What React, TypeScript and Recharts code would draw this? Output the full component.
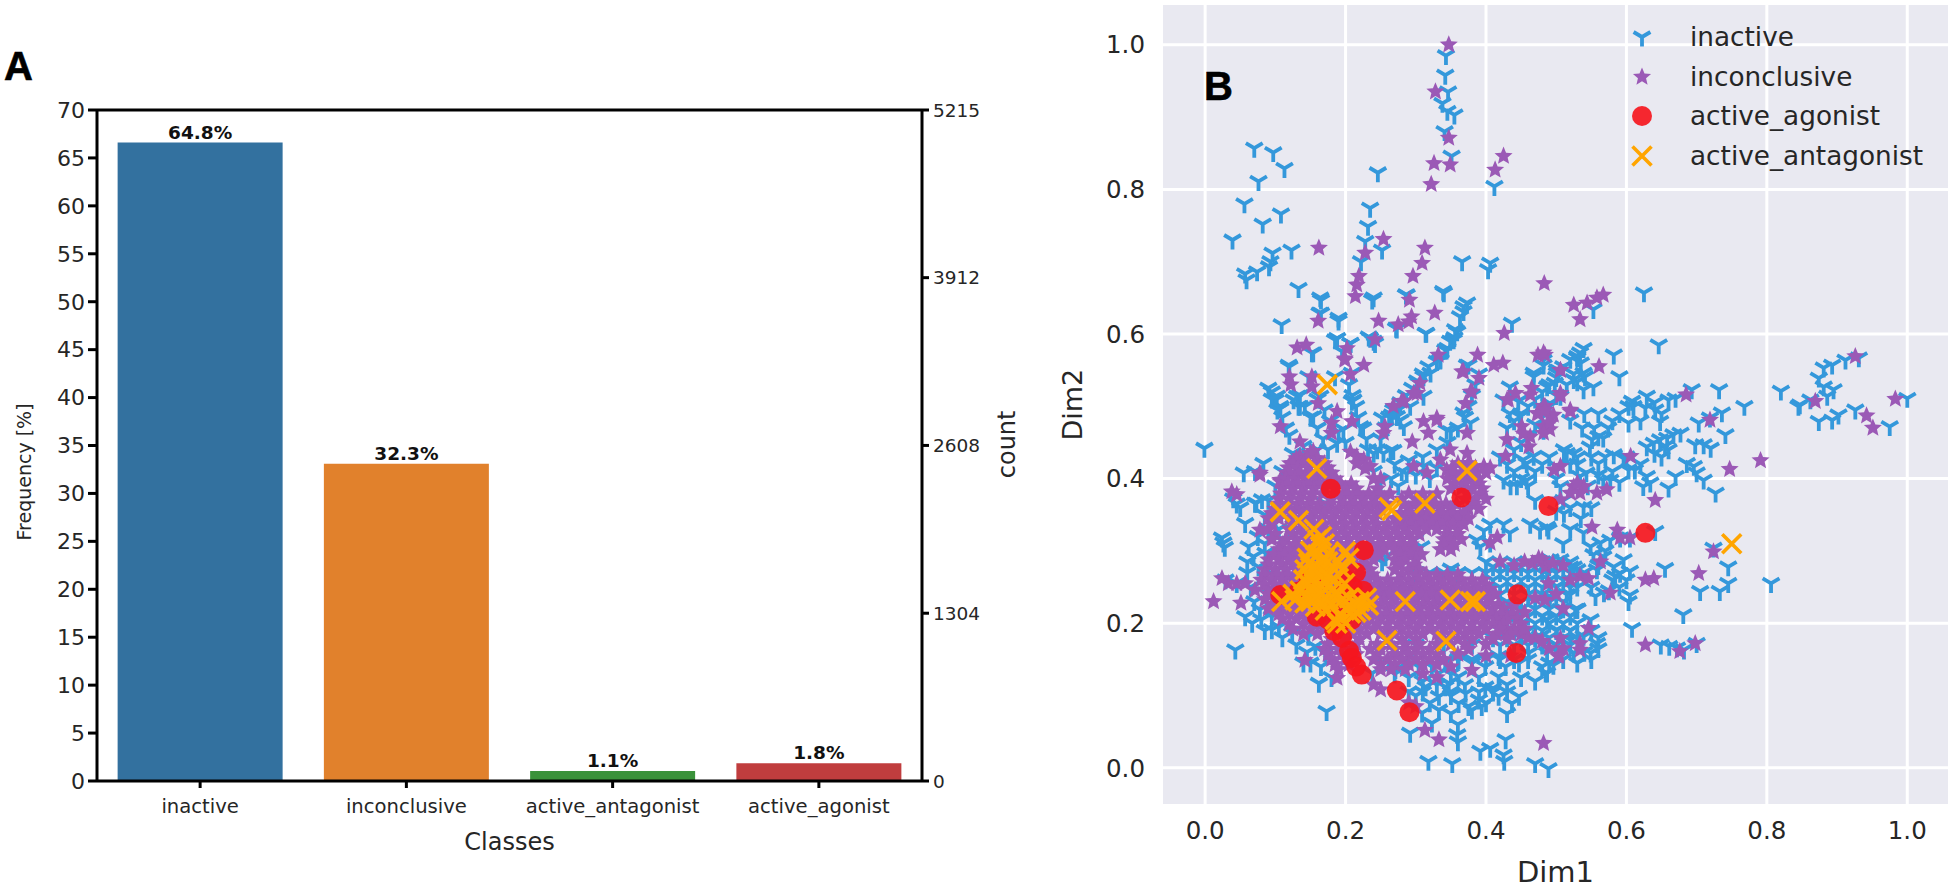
import React from 'react';
import { ComposedChart, Bar, Line, XAxis, YAxis, Cell, LabelList, ReferenceLine, ScatterChart, Scatter, CartesianGrid } from 'recharts';

const FONT = '"DejaVu Sans", sans-serif';

// Panel A
const classNames = ['inactive', 'inconclusive', 'active_antagonist', 'active_agonist'];
const frequencies = [66.6, 33.1, 1.05, 1.85];
const counts = [4960, 2466, 78, 138];
const percentLabels = ['64.8%', '32.3%', '1.1%', '1.8%'];
const barColors = ['#33719f', '#e1812c', '#3a923a', '#c03d3e'];
const freqTicks = [0, 5, 10, 15, 20, 25, 30, 35, 40, 45, 50, 55, 60, 65, 70];
const countTicks = [0, 1304, 2608, 3912, 5215];

// Panel B
const inactivePts: number[][] = [
  [.343,.985],[.342,.958],[.346,.935],[.338,.919],[.345,.908],[.355,.903],[.341,.880],[.351,.846],
  [.070,.857],[.097,.851],[.113,.829],[.076,.811],[.056,.780],[.108,.766],[.082,.752],[.039,.730],[.096,.712],[.123,.716],[.093,.700],[.057,.683],[.074,.686],[.059,.675],[.091,.693],[.133,.663],[.165,.647],[.165,.629],[.190,.618],[.109,.613],[.185,.592],[.235,.774],[.232,.749],[.228,.728],[.252,.716],[.222,.700],[.238,.647],[.246,.823],[.286,.654],[.340,.657],[.366,.700],[.406,.698],[.403,.689],[.412,.804],[.437,.615],[.373,.643],[.368,.631],[.363,.624],[.314,.601],[.272,.608],[.233,.596],[.240,.590],[.356,.606],[.349,.590],[.342,.578],[.330,.562],[.152,.574],[.120,.555],[.207,.587],[.195,.576],[.311,.541],[.304,.532],[.375,.557],[.209,.546],[.147,.541],[.185,.541],[.095,.520],[.102,.514],[.107,.500],[.131,.514],[.133,.500],[.209,.507],[.164,.514],[.275,.495],[.266,.488],[.252,.484],[.292,.500],[.434,.490],[.482,.557],[.468,.541],[.503,.550],[.498,.532],[.446,.507],
  [-.001,.442],[.055,.408],[.071,.410],[.040,.372],[.045,.365],[.050,.360],[.057,.338],[.024,.318],[.026,.311],[.028,.305],[.062,.306],[.069,.292],[.029,.260],[.045,.255],[.057,.209],[.067,.200],[.043,.163],[.095,.191],[.140,.145],[.162,.117],[.173,.078],[.292,.048],[.318,.009],[.352,.006],[.359,.046],[.360,.036],[.392,.023],[.406,.027],[.428,.039],[.425,.018],[.426,.009],[.470,.006],[.489,-.001],
  [.333,.131],[.347,.117],[.361,.126],[.371,.103],[.390,.094],[.375,.085],[.399,.112],[.418,.126],[.437,.089],[.447,.099],[.418,.099],[.333,.099],[.309,.076],[.333,.080],[.323,.062],[.361,.089],[.394,.085],[.342,.112],[.314,.112],[.480,.140],[.485,.131],[.428,.140],[.447,.145],[.461,.159],[.418,.154],[.399,.140],[.380,.145],[.361,.149],[.342,.145],[.323,.140],[.304,.140],[.285,.149],[.271,.136],[.252,.145],[.238,.131],
  [.646,.585],[.539,.580],[.534,.574],[.530,.567],[.582,.571],[.590,.541],[.553,.527],[.541,.541],[.530,.534],[.553,.634],[.625,.657],[.608,.507],[.603,.500],[.629,.514],[.641,.495],[.627,.498],[.660,.509],[.670,.511],[.648,.479],[.603,.477],[.693,.523],[.732,.523],[.768,.500],[.820,.521],[.719,.484],[.736,.491],[.703,.477],[.741,.461],[.698,.447],[.720,.442],[.710,.447],[.686,.421],[.696,.417],[.700,.408],[.710,.398],[.727,.380],[.670,.403],[.660,.387],[.629,.444],[.639,.449],[.648,.454],[.658,.456],[.667,.461],[.677,.463],[.537,.470],[.554,.470],[.574,.470],[.551,.454],[.567,.456],[.560,.458],[.548,.444],[.582,.433],[.596,.428],[.612,.412],[.629,.403],[.624,.389],[.634,.394],[.603,.412],[.515,.435],[.567,.398],[.577,.398],[.560,.421],[.543,.408],[.534,.403],[.525,.435],[.487,.527],[.501,.550],[.525,.537],[.491,.504],[.506,.514],[.482,.467],
  [.881,.553],[.893,.557],[.912,.564],[.931,.567],[.874,.539],[.881,.527],[.895,.523],[.886,.514],[.847,.502],[.845,.500],[.862,.509],[.874,.479],[.893,.481],[.902,.488],[.926,.495],[.975,.472],[1.0,.511],
  [.549,.306],[.563,.311],[.577,.315],[.591,.318],[.605,.318],[.641,.327],[.553,.295],[.567,.292],[.596,.288],[.582,.278],[.591,.269],[.605,.272],[.584,.265],[.655,.276],[.520,.278],[.530,.274],[.558,.274],[.568,.242],[.556,.237],[.605,.239],[.603,.230],[.527,.219],[.549,.205],[.681,.212],[.608,.193],[.649,.170],[.661,.168],[.672,.166],[.682,.163],[.700,.172],[.705,.244],[.733,.244],[.745,.255],[.745,.278],[.724,.304],[.806,.255],[.489,.329],[.511,.352],[.539,.361],[.506,.389],
  [.492,.288],[.506,.288],[.525,.278],[.487,.269],[.501,.251],[.491,.237],[.506,.219],[.530,.219],[.487,.205],[.501,.191],[.520,.177],[.539,.182],[.558,.172],[.549,.159],[.525,.159],[.506,.159],[.487,.159],[.487,.131],[.496,.142],[.477,.182],
  [.164,.650],[.163,.629],[.190,.622],[.240,.650],[.287,.654],[.339,.659],[.368,.638],[.359,.603],[.315,.601],[.273,.607],[.235,.594],[.242,.587],[.188,.594],[.207,.587],[.154,.574],[.119,.557],[.100,.509],[.107,.497],[.126,.509],[.135,.500],[.154,.486],[.211,.509],[.221,.472],[.197,.468],[.188,.449],[.264,.439],[.240,.435],[.278,.481],[.283,.472],[.344,.467],[.268,.495],[.273,.486],[.321,.546],[.354,.592],[.344,.578],[.335,.564],[.311,.514],[.378,.477],[.368,.491],[.373,.557],[.425,.509],[.434,.527],[.468,.546],[.482,.564],[.501,.546],[.448,.486],[.520,.481],[.530,.569],[.539,.546],[.539,.523],[.453,.426],[.468,.431],[.425,.398],[.444,.390],[.458,.398],[.458,.421],[.511,.440],[.501,.417],[.287,.407],[.311,.417],[.268,.439],[.254,.435],[.083,.421],[.073,.366],[.406,.337],[.425,.337],[.397,.328],[.406,.311],[.434,.325],[.387,.315],[.392,.306],[.463,.337],[.477,.329],[.487,.333],[.539,.325],
  [.076,.278],[.086,.242],[.078,.219],[.095,.209],[.105,.195],[.124,.186],[.147,.182],[.157,.168],[.171,.159],[.095,.269],[.105,.297],[.109,.315],[.086,.297],[.071,.366],[.081,.371],[.171,.366],[.105,.330],[.252,.285],[.257,.292],[.299,.316],[.308,.306],[.350,.275],
  [.40,.285],[.42,.285],[.44,.285],[.46,.285],[.48,.285],[.50,.285],[.52,.285],
  [.30,.27],[.32,.27],[.34,.27],[.36,.27],[.38,.27],[.40,.27],[.42,.27],[.44,.27],[.46,.27],[.48,.27],[.50,.27],[.52,.27],
  [.42,.25],[.44,.25],[.46,.25],[.48,.25],[.50,.25],[.52,.25],
  [.43,.23],[.45,.23],[.47,.23],[.49,.23],[.51,.23],
  [.44,.21],[.46,.21],[.48,.21],[.50,.21],[.52,.21],
  [.42,.19],[.44,.19],[.46,.19],[.48,.19],[.50,.19],[.52,.19],
  [.30,.17],[.34,.17],[.38,.17],[.42,.17],[.44,.17],[.46,.17],[.48,.17],[.50,.17],[.52,.17],
  // streams
  [.09,.525],[.095,.51],[.103,.495],[.11,.485],[.115,.47],[.12,.46],[.135,.515],[.142,.50],[.15,.485],[.16,.47],[.168,.455],[.175,.44],[.16,.51],[.17,.495],[.178,.48],[.19,.465],[.2,.45],[.205,.53],[.21,.515],[.215,.50],[.218,.485],[.225,.47],[.23,.455],[.232,.44],
  [.245,.44],[.25,.455],[.257,.47],[.262,.485],[.27,.495],[.278,.505],[.286,.515],[.295,.525],[.302,.535],[.31,.545],[.318,.555],[.335,.565],[.345,.58],[.355,.595],
  [.33,.44],[.345,.45],[.35,.465],[.36,.47],[.37,.485],[.375,.50],[.38,.515],[.385,.53],[.39,.545],
  [.43,.47],[.44,.48],[.45,.49],[.46,.50],[.47,.51],[.48,.52],[.49,.53],[.50,.54],[.51,.555],[.52,.565],[.44,.44],[.45,.45],[.46,.46],[.47,.475],[.48,.485],[.49,.50],[.50,.515],[.515,.53],[.525,.545],[.535,.56],
  [.27,.42],[.29,.425],[.31,.43],[.28,.41],[.30,.405],[.32,.40],[.33,.415],[.24,.41],[.25,.395],[.265,.40],[.275,.39],
  [.42,.43],[.43,.42],[.44,.41],[.45,.40],[.46,.39],[.435,.39],[.47,.41],[.48,.42],[.49,.43],[.50,.40],[.52,.42],[.53,.43],[.51,.37],[.52,.36],[.50,.355],[.47,.37],
  [.27,.13],[.29,.125],[.31,.12],[.33,.115],[.35,.13],[.37,.115],[.39,.125],[.41,.11],[.43,.115],[.45,.125],[.47,.12],[.32,.09],[.35,.10],[.38,.08],[.40,.09],[.35,.075],[.30,.10],[.43,.075],[.36,.06],
  [.06,.27],[.065,.25],[.07,.23],[.08,.205],[.085,.19],[.11,.18],[.13,.17],[.145,.16],[.06,.285],[.085,.31],[.09,.33],[.10,.345],[.075,.32],[.085,.35],[.09,.37],[.10,.39],[.11,.41],[.125,.435],[.14,.445],[.16,.44],[.15,.145],[.165,.14],[.18,.125],
  [.56,.28],[.57,.30],[.58,.26],[.60,.26],[.575,.245],[.59,.25],[.55,.25],[.53,.25],[.54,.27],[.52,.26],[.515,.24],[.53,.20],[.55,.19],[.56,.18],[.52,.19],[.50,.17],[.54,.16],[.56,.165],[.49,.145],[.51,.15],[.53,.145],[.55,.15],
  [.545,.39],[.55,.36],[.52,.33],[.51,.31],[.535,.345],[.60,.43],[.62,.42],[.58,.41],[.59,.395],[.57,.43],[.55,.43],[.53,.42],[.56,.405],[.65,.43],[.66,.44],[.64,.435],[.655,.445],[.61,.50],[.62,.48],[.64,.505],[.65,.49],[.59,.49],[.58,.48],[.56,.49],[.54,.49],
  // dense lower-right band
  [.41,.278],[.43,.278],[.45,.278],[.47,.278],[.49,.278],[.51,.278],
  [.41,.26],[.43,.26],[.45,.26],[.47,.26],[.49,.26],[.51,.26],[.53,.26],
  [.42,.24],[.44,.24],[.46,.24],[.48,.24],[.50,.24],[.52,.24],
  [.43,.22],[.45,.22],[.47,.22],[.49,.22],[.51,.22],[.53,.22],
  [.43,.20],[.45,.20],[.47,.20],[.49,.20],[.51,.20],
  [.41,.18],[.43,.18],[.45,.18],[.47,.18],[.49,.18],[.51,.18],[.53,.18],
  [.36,.15],[.38,.15],[.40,.15],[.42,.15],[.44,.15],[.46,.15],
  [.29,.105],[.31,.105],[.35,.105],[.39,.105],[.41,.105],[.43,.105],
];

const inconclusiveScattered: number[][] = [
  [.347,1.0],[.328,.935],[.347,.871],[.326,.836],[.349,.834],[.322,.807],[.425,.846],[.413,.827],
  [.162,.719],[.254,.731],[.228,.712],[.219,.680],[.216,.668],[.214,.652],[.313,.719],[.309,.698],[.296,.680],[.291,.647],[.327,.629],[.294,.624],[.290,.617],[.275,.613],[.247,.618],[.161,.618],[.483,.670],[.426,.601],[.242,.592],[.131,.581],[.144,.585],[.202,.580],[.199,.566],[.226,.557],[.207,.544],[.120,.541],[.122,.530],[.152,.527],[.332,.571],[.306,.532],[.302,.518],[.388,.571],[.366,.548],[.390,.539],[.411,.557],[.424,.560],[.380,.520],[.371,.504],[.283,.507],[.161,.504],[.188,.493],[.330,.484],[.474,.571],[.484,.571],[.465,.525],[.442,.518],[.430,.509],[.484,.500],[.475,.490],
  [.199,.564],[.152,.541],[.180,.477],[.180,.463],[.107,.472],[.209,.479],[.135,.451],[.154,.438],[.297,.518],[.256,.472],[.254,.463],[.268,.500],[.280,.507],[.311,.479],[.318,.463],[.330,.481],[.295,.451],[.368,.548],[.378,.520],[.373,.463],[.432,.509],[.463,.516],[.482,.500],[.473,.490],[.451,.472],[.463,.458],[.491,.468],[.520,.495],[.506,.550],[.430,.454],[.428,.431],[.461,.444],[.506,.518],[.491,.486],[.453,.462],[.482,.472],
  [.207,.437],[.216,.431],[.226,.426],[.235,.417],[.216,.421],[.228,.414],[.349,.440],[.335,.426],[.373,.435],[.397,.417],[.344,.412],[.368,.407],[.378,.402],[.359,.398],[.387,.398],[.406,.415],[.297,.417],[.316,.408],[.078,.408],[.107,.398],[.121,.421],[.135,.431],[.150,.435],[.116,.408],[.416,.319],[.406,.311],
  [.926,.569],[.869,.507],[.983,.510],[.942,.487],[.951,.470],[.506,.417],[.497,.412],[.525,.389],[.534,.380],[.520,.380],[.539,.389],[.530,.394],[.572,.385],[.558,.380],[.506,.371],[.606,.431],[.641,.370],[.747,.413],[.791,.425],[.719,.481],[.685,.516],[.551,.333],[.587,.329],[.591,.318],[.605,.318],[.563,.285],[.534,.265],[.546,.262],[.577,.242],[.484,.232],[.489,.255],[.627,.260],[.639,.262],[.703,.269],[.724,.299],[.546,.193],[.627,.170],[.676,.161],[.698,.172],[.534,.172],[.504,.156],[.534,.163],[.506,.179],[.482,.574],[.561,.555],[.506,.550],[.506,.514],[.520,.493],[.496,.488],[.484,.495],[.491,.477],[.482,.463],[.525,.640],[.544,.643],[.534,.620],[.567,.654],[.558,.650],
  [.188,.124],[.313,.052],[.333,.039],[.012,.230],[.051,.228],[.142,.149],[.482,.034],[.045,.378],[.038,.382],[.033,.255],[.045,.255],[.024,.262],[.057,.255],[.078,.329],[.078,.405],[.107,.396],[.071,.246],[.42,.195],[.44,.19],[.47,.18],[.503,.154],[.485,.278],[.466,.283],[.48,.288],[.495,.283],[.24,.115],[.25,.108],[.29,.09],[.30,.085],
  [.42,.285],[.44,.28],[.455,.285],[.475,.29],[.51,.28],[.43,.19],[.45,.185],[.46,.18],[.48,.175],[.49,.165],[.51,.165],[.42,.21],[.44,.225],[.455,.215],[.52,.26],[.51,.22],[.50,.24],[.435,.155],[.40,.155],[.38,.135],[.33,.125],[.31,.13],[.35,.14],[.47,.235],
];

const inconclusiveRows: [number, number[]][] = [
  [.428, [.13,.145,.16]],
  [.421, [.125,.14,.155,.17,.36,.375]],
  [.415, [.118,.132,.147,.162,.175,.352,.368,.385]],
  [.408, [.12,.135,.15,.165,.18,.355,.37,.385,.40]],
  [.400, [.115,.128,.142,.157,.172,.186,.24,.25,.345,.36,.375,.39]],
  [.393, [.118,.133,.148,.163,.178,.193,.208,.355,.37,.39]],
  [.386, [.11,.125,.14,.155,.17,.185,.2,.215,.245,.35,.365,.38,.395]],
  [.379, [.108,.123,.138,.153,.168,.188,.203,.218,.233,.248,.263,.29,.31,.33,.375,.392]],
  [.372, [.105,.12,.135,.15,.18,.195,.21,.225,.24,.255,.28,.30,.32,.37,.385,.4]],
  [.365, [.103,.118,.133,.148,.163,.178,.198,.213,.228,.243,.258,.283,.298,.313,.328,.343,.358,.382]],
  [.358, [.10,.115,.13,.145,.16,.175,.19,.205,.22,.235,.25,.29,.305,.32,.335,.35,.375,.39]],
  [.352, [.095,.11,.125,.14,.155,.17,.185,.2,.215,.23,.245,.278,.293,.308,.323,.338,.353,.368]],
  [.345, [.09,.105,.12,.135,.15,.165,.18,.195,.21,.225,.24,.27,.285,.30,.315,.33,.345,.36,.375]],
  [.337, [.095,.125,.14,.155,.17,.185,.2,.215,.23,.245,.26,.278,.293,.308,.323,.338,.353,.368]],
  [.330, [.09,.12,.135,.15,.165,.18,.195,.21,.225,.24,.255,.27,.285,.30,.315,.33,.345,.36]],
  [.323, [.10,.125,.14,.155,.17,.185,.2,.215,.23,.245,.26,.275,.29,.305,.345,.36]],
  [.316, [.095,.115,.13,.145,.16,.175,.19,.205,.22,.235,.25,.265,.28,.295,.34,.35,.365]],
  [.309, [.11,.128,.143,.158,.173,.188,.203,.218,.233,.248,.263,.278,.293,.34,.355]],
  [.302, [.105,.12,.135,.15,.165,.18,.195,.21,.225,.24,.255,.27,.285,.30,.335,.35]],
  [.295, [.098,.113,.128,.143,.158,.173,.188,.203,.218,.233,.248,.278,.293,.308]],
  [.288, [.09,.105,.12,.135,.15,.165,.18,.195,.21,.225,.24,.27,.285,.30]],
  [.281, [.09,.11,.125,.14,.155,.17,.185,.2,.215,.23,.278,.298]],
  [.274, [.085,.10,.115,.13,.145,.16,.175,.19,.205,.22,.235,.27,.29,.305]],
  [.267, [.085,.103,.118,.133,.148,.163,.178,.193,.208,.223,.238,.28,.30,.315,.33,.345,.36]],
  [.260, [.08,.095,.11,.125,.14,.155,.17,.185,.2,.215,.23,.245,.26,.275,.29,.305,.32,.335,.35,.365,.38,.395]],
  [.253, [.085,.1,.115,.13,.145,.16,.175,.19,.205,.22,.235,.25,.265,.28,.295,.31,.325,.34,.355,.37,.385,.40]],
  [.247, [.09,.105,.12,.135,.15,.165,.18,.195,.21,.225,.24,.255,.27,.285,.30,.315,.33,.345,.36,.375,.39,.405]],
  [.240, [.09,.11,.128,.143,.158,.173,.188,.203,.218,.233,.248,.263,.278,.293,.308,.323,.338,.353,.368,.383,.398,.413]],
  [.233, [.085,.10,.12,.135,.15,.165,.18,.195,.21,.225,.24,.255,.27,.285,.30,.315,.33,.345,.36,.375,.39,.405]],
  [.226, [.095,.115,.13,.145,.16,.175,.19,.205,.22,.235,.25,.265,.28,.295,.31,.325,.34,.355,.37,.385,.40,.418]],
  [.220, [.09,.11,.125,.14,.155,.17,.185,.2,.215,.23,.245,.26,.275,.29,.305,.32,.335,.35,.365,.38,.395,.41,.425]],
  [.213, [.105,.12,.138,.153,.168,.183,.198,.213,.228,.243,.258,.273,.288,.303,.318,.333,.348,.363,.378,.393,.408,.423,.438]],
  [.206, [.11,.13,.145,.16,.175,.19,.205,.22,.235,.25,.265,.28,.295,.31,.325,.34,.355,.37,.385,.40,.415,.43,.445]],
  [.199, [.12,.14,.155,.17,.185,.2,.215,.23,.245,.26,.275,.29,.305,.32,.335,.35,.365,.38,.395,.41,.425,.45]],
  [.192, [.125,.15,.17,.195,.22,.24,.26,.28,.30,.32,.34,.36,.38,.40,.42,.44,.455]],
  [.185, [.14,.16,.19,.21,.23,.25,.27,.29,.31,.33,.35,.37,.39,.415,.435]],
  [.178, [.18,.20,.22,.26,.28,.30,.34,.36,.38,.41,.43]],
  [.171, [.175,.195,.215,.245,.265,.285,.305,.33,.35,.37,.40]],
  [.164, [.17,.19,.21,.235,.25,.27,.285,.30,.32,.375]],
  [.157, [.175,.195,.215,.245,.27,.29,.31,.33,.36]],
  [.150, [.18,.20,.24,.26,.28,.30,.32,.34]],
  [.143, [.185,.205,.25,.27,.29,.31,.33]],
  [.136, [.19,.25,.265,.285]],
];

const inconclusivePts: number[][] = [
  ...inconclusiveScattered,
  ...inconclusiveRows.flatMap(([y, xs]) => xs.map((x) => [x, y])),
];

const agonistPts: number[][] = [
  [.179,.386],[.365,.374],[.489,.362],[.226,.301],[.215,.270],[.445,.240],[.107,.239],[.443,.159],[.205,.162],[.209,.152],[.215,.140],[.223,.129],[.273,.107],[.291,.077],[.184,.189],[.159,.209],[.209,.205],[.199,.242],[.147,.258],[.133,.244],[.627,.325],[.171,.223],[.185,.214],[.166,.26],
  [.19,.195],[.21,.25],[.20,.26],[.225,.245],[.195,.18],[.175,.205],
];

const antagonistPts: number[][] = [
  [.159,.414],[.373,.411],[.262,.360],[.266,.356],[.313,.366],[.107,.354],[.133,.342],[.285,.230],[.349,.232],[.385,.230],[.378,.230],[.259,.176],[.343,.175],[.20,.299],[.750,.310],[.174,.530],
  [.166,.320],[.164,.306],[.157,.292],[.147,.283],[.166,.283],[.176,.297],[.142,.274],[.159,.269],[.180,.278],[.195,.274],[.147,.255],[.166,.251],[.185,.26],[.109,.230],[.128,.232],[.147,.237],[.161,.237],[.142,.228],[.157,.223],[.176,.232],[.195,.232],[.214,.228],[.233,.225],[.222,.218],[.192,.209],[.188,.200],[.171,.218],[.207,.214],[.199,.255],
  [.155,.33],[.16,.315],[.17,.31],[.15,.30],[.16,.295],[.17,.29],[.145,.29],[.155,.28],[.165,.27],[.175,.285],[.15,.265],[.14,.26],[.155,.255],[.17,.26],[.18,.245],[.15,.245],[.135,.245],[.125,.24],[.165,.24],[.19,.24],[.205,.235],[.22,.23],[.18,.225],[.165,.228],[.15,.23],[.20,.22],[.215,.215],[.185,.205],[.20,.20],[.23,.235],[.175,.265],[.19,.285],[.205,.29],
];

const dimTicks = [0, 0.2, 0.4, 0.6, 0.8, 1.0];
const BLUE = '#3498db';
const PURPLE = '#9b59b6';
const RED = '#f5161e';
const ORANGE = '#ffa500';

const toObjects = (pts: number[][]) => pts.map(([x, y]) => ({ x, y }));

const starPoints = (cx: number, cy: number, R: number) => {
  const out: string[] = [];
  for (let i = 0; i < 10; i++) {
    const r = i % 2 === 0 ? R : R * 0.45;
    const a = -Math.PI / 2 + (i * Math.PI) / 5;
    out.push(`${cx + r * Math.cos(a)},${cy + r * Math.sin(a)}`);
  }
  return out.join(' ');
};

const TriDown = ({ cx, cy }: any) => (
  <path
    d={`M${cx},${cy}L${cx},${cy + 9.5}M${cx},${cy}L${cx - 8.4},${cy - 5}M${cx},${cy}L${cx + 8.4},${cy - 5}`}
    stroke={BLUE} strokeWidth={3.8} fill="none"
  />
);
const Star = ({ cx, cy }: any) => <polygon points={starPoints(cx, cy, 9.5)} fill={PURPLE} />;
const Dot = ({ cx, cy }: any) => <circle cx={cx} cy={cy} r={10} fill={RED} fillOpacity={0.92} />;
const Cross = ({ cx, cy }: any) => (
  <path d={`M${cx - 9.5},${cy - 9.5}L${cx + 9.5},${cy + 9.5}M${cx - 9.5},${cy + 9.5}L${cx + 9.5},${cy - 9.5}`} stroke={ORANGE} strokeWidth={3.6} fill="none" />
);

const legendRows = [
  { name: 'inactive', Icon: TriDown },
  { name: 'inconclusive', Icon: Star },
  { name: 'active_agonist', Icon: Dot },
  { name: 'active_antagonist', Icon: Cross },
];

const LegendBox = () => (
  <div style={{ position: 'absolute', left: 1627, top: 17, fontFamily: FONT, fontSize: 26.3, color: '#262626', whiteSpace: 'nowrap' }}>
    {legendRows.map(({ name, Icon }) => (
      <div key={name} style={{ display: 'flex', alignItems: 'center', height: 39.7 }}>
        <svg width={30} height={30} style={{ marginRight: 33 }}>
          <Icon cx={15} cy={15} />
        </svg>
        <span>{name}</span>
      </div>
    ))}
  </div>
);

const barRows = classNames.map((name, i) => ({ name, freq: frequencies[i], count: counts[i], label: percentLabels[i] }));

const PanelLetter = ({ text, left, top }: { text: string; left: number; top: number }) => (
  <div style={{ position: 'absolute', left, top, fontFamily: '"Liberation Sans", Arial, sans-serif', fontWeight: 700, fontSize: 40, lineHeight: '40px', color: '#000', WebkitTextStroke: '0.6px #000' }}>{text}</div>
);

export default function App() {
  return (
    <div style={{ position: 'absolute', left: 0, top: 0, width: 1953, height: 888, background: '#fff', overflow: 'hidden' }}>
      <div style={{ position: 'absolute', left: 0, top: 0 }}>
        <ComposedChart width={1050} height={888} data={barRows} margin={{ top: 110, right: 48, bottom: 47, left: 20 }} barCategoryGap="10%">
          <XAxis
            dataKey="name" interval={0} height={60} stroke="#000" strokeWidth={3}
            tick={{ fontSize: 19.6, fontFamily: FONT, fill: '#262626' }} tickSize={7} tickMargin={11}
            label={{ value: 'Classes', position: 'insideBottom', offset: -9, fontSize: 24, fontFamily: FONT, fill: '#262626' }}
          />
          <YAxis
            yAxisId="left" width={77} domain={[0, 70]} ticks={freqTicks} interval={0} stroke="#000" strokeWidth={3}
            tick={{ fontSize: 22, fontFamily: FONT, fill: '#262626' }} tickSize={9} tickMargin={3}
            label={{ value: 'Frequency [%]', angle: -90, position: 'insideLeft', offset: 4, dy: 95, fontSize: 19, fontFamily: FONT, fill: '#262626' }}
          />
          <YAxis
            yAxisId="right" orientation="right" width={80} domain={[0, 5215]} ticks={countTicks} interval={0} stroke="#000" strokeWidth={3}
            tick={{ fontSize: 18.5, fontFamily: FONT, fill: '#262626' }} tickSize={7} tickMargin={4}
            label={{ value: 'count', angle: -90, position: 'insideRight', offset: -4, dy: -35, fontSize: 24, fontFamily: FONT, fill: '#262626' }}
          />
          <ReferenceLine yAxisId="left" y={70} stroke="#000" strokeWidth={3} />
          <Bar yAxisId="left" dataKey="freq" isAnimationActive={false}>
            {barRows.map((r, i) => <Cell key={r.name} fill={barColors[i]} />)}
            <LabelList dataKey="label" position="top" offset={4} style={{ fontSize: 18.5, fontWeight: 700, fontFamily: FONT, fill: '#111' }} />
          </Bar>
          <Line yAxisId="right" dataKey="count" stroke="none" dot={false} activeDot={false} isAnimationActive={false} />
        </ComposedChart>
      </div>

      <div style={{ position: 'absolute', left: 1050, top: 0 }}>
        <ScatterChart width={903} height={888} margin={{ top: 5, right: 5, bottom: 34, left: 20 }}>
          <CartesianGrid stroke="#fff" strokeWidth={3} fill="#e9e9f1" syncWithTicks />
          <XAxis
            type="number" dataKey="x" domain={[-0.06, 1.058]} ticks={dimTicks} allowDataOverflow height={50}
            axisLine={false} tickLine={false} tickFormatter={(v: number) => v.toFixed(1)}
            tick={{ fontSize: 24.5, fontFamily: FONT, fill: '#262626' }} tickMargin={12}
            label={{ value: 'Dim1', position: 'insideBottom', offset: -28, fontSize: 29, fontFamily: FONT, fill: '#262626' }}
          />
          <YAxis
            type="number" dataKey="y" domain={[-0.05, 1.055]} ticks={dimTicks} allowDataOverflow width={93}
            axisLine={false} tickLine={false} tickFormatter={(v: number) => v.toFixed(1)}
            tick={{ fontSize: 24.5, fontFamily: FONT, fill: '#262626' }} tickMargin={12}
            label={{ value: 'Dim2', angle: -90, position: 'insideLeft', offset: 2, dy: 36, fontSize: 27, fontFamily: FONT, fill: '#262626' }}
          />
          <Scatter name="inactive" data={toObjects(inactivePts)} shape={TriDown} isAnimationActive={false} />
          <Scatter name="inconclusive" data={toObjects(inconclusivePts)} shape={Star} isAnimationActive={false} />
          <Scatter name="active_agonist" data={toObjects(agonistPts)} shape={Dot} isAnimationActive={false} />
          <Scatter name="active_antagonist" data={toObjects(antagonistPts)} shape={Cross} isAnimationActive={false} />
        </ScatterChart>
      </div>

      <LegendBox />
      <PanelLetter text="A" left={4} top={46} />
      <PanelLetter text="B" left={1204} top={66} />
    </div>
  );
}
